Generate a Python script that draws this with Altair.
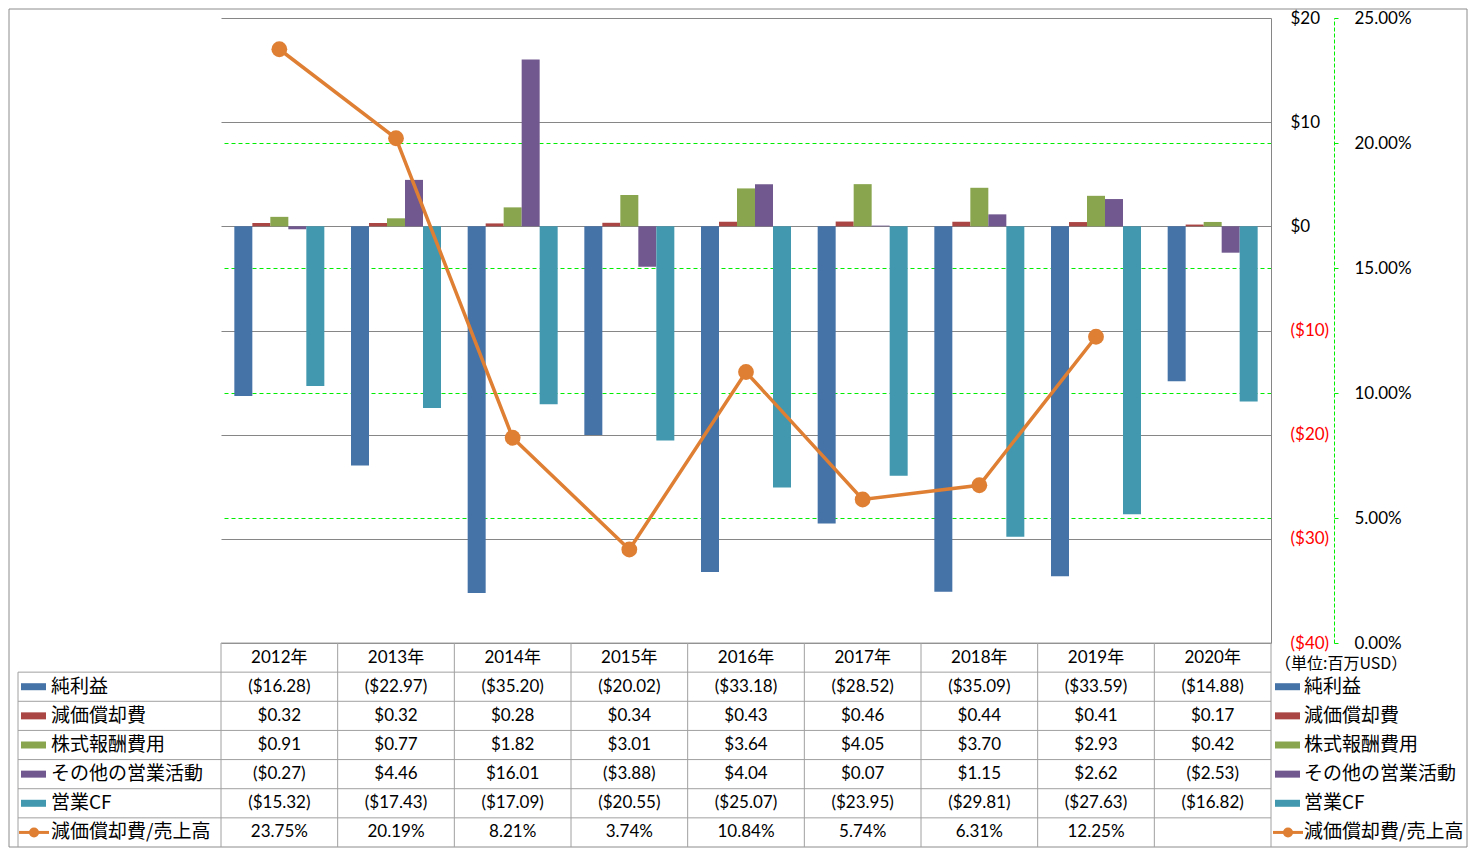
import altair as alt
import pandas as pd

# ---------------- data ----------------
years = ["2012年", "2013年", "2014年", "2015年", "2016年", "2017年", "2018年", "2019年", "2020年"]
series_names = ["純利益", "減価償却費", "株式報酬費用", "その他の営業活動", "営業CF"]
net_income = [-16.28, -22.97, -35.20, -20.02, -33.18, -28.52, -35.09, -33.59, -14.88]
depreciation = [0.32, 0.32, 0.28, 0.34, 0.43, 0.46, 0.44, 0.41, 0.17]
stock_comp = [0.91, 0.77, 1.82, 3.01, 3.64, 4.05, 3.70, 2.93, 0.42]
other_ops = [-0.27, 4.46, 16.01, -3.88, 4.04, 0.07, 1.15, 2.62, -2.53]
operating_cf = [-15.32, -17.43, -17.09, -20.55, -25.07, -23.95, -29.81, -27.63, -16.82]
ratio_name = "減価償却費/売上高"
dep_ratio = [23.75, 20.19, 8.21, 3.74, 10.84, 5.74, 6.31, 12.25, None]
unit_label = "（単位:百万USD）"
primary_ticks = [-40, -30, -20, -10, 0, 10, 20]
secondary_ticks = [0, 5, 10, 15, 20, 25]

# ---------------- style ----------------
colors = ["#4572A7", "#AA4643", "#89A54E", "#71588F", "#4198AF"]
line_color = "#DE7F34"
grid_gray = "#868686"
table_gray = "#A0A0A0"
green = "#00EE00"
NUM_FONT = "Lato, 'Noto Sans CJK JP', sans-serif"
CJK_FONT = "'Noto Sans CJK JP', sans-serif"

PLOT_W, PLOT_H = 1050, 625
TABLE_H = 204

series_values = [net_income, depreciation, stock_comp, other_ops, operating_cf]
bar_df = pd.DataFrame(
    [{"year": y, "series": s, "value": v}
     for s, vals in zip(series_names, series_values)
     for y, v in zip(years, vals)]
)
line_df = pd.DataFrame(
    [{"year": y, "ratio": r} for y, r in zip(years, dep_ratio) if r is not None]
)


def money(v):
    return f"(${abs(v):.2f})" if v < 0 else f"${v:.2f}"


table_rows = []
for y in years:
    table_rows.append({"year": y, "row": "hdr", "text": y})
for s, vals in zip(series_names, series_values):
    for y, v in zip(years, vals):
        table_rows.append({"year": y, "row": s, "text": money(v)})
for y, r in zip(years, dep_ratio):
    table_rows.append({"year": y, "row": ratio_name, "text": "" if r is None else f"{r:.2f}%"})
table_df = pd.DataFrame(table_rows)

row_ids = ["hdr"] + series_names + [ratio_name]
one = pd.DataFrame({"k": [0]})

# ---------------- top chart ----------------
x_scale = alt.Scale(domain=years, paddingInner=0.2286, paddingOuter=0.1143)

primary_axis = alt.Axis(
    orient="right", values=primary_ticks, title=None,
    labelExpr="datum.value < 0 ? '($' + abs(datum.value) + ')' : '$' + datum.value",
    labelColor={"condition": {"test": "datum.value < 0", "value": "#FF0000"}, "value": "#000000"},
    ticks=False, domain=True, domainColor=grid_gray, grid=True, gridColor=grid_gray,
    labelPadding=19, labelFont=NUM_FONT, labelFontSize=17, labelAlign="left",
)
secondary_axis = alt.Axis(
    orient="right", offset=63, values=secondary_ticks, title=None,
    labelExpr="format(datum.value, '.2f') + '%'",
    domainColor=green, domainDash=[4, 2], tickColor=green, tickSize=4,
    labelPadding=16, labelFont=NUM_FONT, labelFontSize=17, labelColor="#000000",
    grid=True, gridColor=green, gridDash=[4, 3],
    gridOpacity={"condition": {"test": "datum.value > 0 && datum.value < 25", "value": 1}, "value": 0},
)

border = alt.Chart(one).mark_rect(fillOpacity=0, stroke="#8C8C8C", strokeWidth=1).encode(
    x=alt.value(-212), x2=alt.value(1246), y=alt.value(-9), y2=alt.value(PLOT_H + TABLE_H)
)

bars = alt.Chart(bar_df).mark_bar().encode(
    x=alt.X("year:N", scale=x_scale, axis=None),
    xOffset=alt.XOffset("series:N", scale=alt.Scale(domain=series_names, paddingInner=0, paddingOuter=0)),
    y=alt.Y("value:Q", scale=alt.Scale(domain=[-40, 20], nice=False), axis=primary_axis),
    color=alt.Color("series:N", scale=alt.Scale(domain=series_names, range=colors), legend=None),
)

line = alt.Chart(line_df).mark_line(color=line_color, strokeWidth=3.5).encode(
    x=alt.X("year:N", scale=x_scale, axis=None),
    y=alt.Y("ratio:Q", scale=alt.Scale(domain=[0, 25], nice=False), axis=secondary_axis),
)
pts = alt.Chart(line_df).mark_circle(color=line_color, size=250, opacity=1).encode(
    x=alt.X("year:N", scale=x_scale, axis=None),
    y=alt.Y("ratio:Q", scale=alt.Scale(domain=[0, 25], nice=False), axis=None),
)

top = alt.layer(border, bars, line, pts).resolve_scale(y="independent").properties(
    width=PLOT_W, height=PLOT_H
)

# ---------------- table ----------------
x_tab = alt.Scale(domain=years, paddingInner=0, paddingOuter=0)
y_tab = alt.Scale(domain=row_ids, paddingInner=0, paddingOuter=0)

cells = alt.Chart(table_df).mark_text(font=NUM_FONT, fontSize=17, color="#000000").encode(
    x=alt.X("year:N", scale=x_tab, axis=None),
    y=alt.Y("row:N", scale=y_tab, axis=None),
    text="text:N",
)

vlines = alt.Chart(pd.DataFrame({"year": years})).mark_rule(color=table_gray, strokeWidth=1).encode(
    x=alt.X("year:N", scale=x_tab, axis=None, bandPosition=0),
    y=alt.value(0), y2=alt.value(TABLE_H),
)
right_edge = alt.Chart(one).mark_rule(color=table_gray, strokeWidth=1).encode(
    x=alt.value(PLOT_W), y=alt.value(0), y2=alt.value(TABLE_H)
)
hline_hdr = alt.Chart(pd.DataFrame({"row": ["hdr"]})).mark_rule(color=table_gray, strokeWidth=1).encode(
    y=alt.Y("row:N", scale=y_tab, axis=None, bandPosition=0),
    x=alt.value(0), x2=alt.value(PLOT_W),
)
hlines = alt.Chart(pd.DataFrame({"row": row_ids[1:]})).mark_rule(color=table_gray, strokeWidth=1).encode(
    y=alt.Y("row:N", scale=y_tab, axis=None, bandPosition=0),
    x=alt.value(-203), x2=alt.value(PLOT_W),
)
left_edge = alt.Chart(pd.DataFrame({"row": [row_ids[1]]})).mark_rule(color=table_gray, strokeWidth=1).encode(
    y=alt.Y("row:N", scale=y_tab, axis=None, bandPosition=0),
    y2=alt.value(TABLE_H), x=alt.value(-203),
)

sw_df = pd.DataFrame({"row": series_names})
color_tab = alt.Color("row:N", scale=alt.Scale(domain=series_names, range=colors), legend=None)


def legend_column(x0, text_x):
    sw = alt.Chart(sw_df).mark_rule(strokeWidth=7).encode(
        x=alt.value(x0), x2=alt.value(x0 + 25),
        y=alt.Y("row:N", scale=y_tab, axis=None), color=color_tab,
    )
    ratio_df = pd.DataFrame({"row": [ratio_name]})
    lk = alt.Chart(ratio_df).mark_rule(strokeWidth=3, color=line_color).encode(
        x=alt.value(x0 - 2), x2=alt.value(x0 + 28),
        y=alt.Y("row:N", scale=y_tab, axis=None),
    )
    lp = alt.Chart(ratio_df).mark_circle(size=100, color=line_color, opacity=1).encode(
        x=alt.value(x0 + 13), y=alt.Y("row:N", scale=y_tab, axis=None),
    )
    lab = alt.Chart(pd.DataFrame({"row": series_names + [ratio_name]})).mark_text(
        font=CJK_FONT, fontSize=19, align="left", color="#000000"
    ).encode(
        x=alt.value(text_x), y=alt.Y("row:N", scale=y_tab, axis=None), text="row:N",
    )
    return [sw, lk, lp, lab]


unit = alt.Chart(pd.DataFrame({"row": ["hdr"], "t": [unit_label]})).mark_text(
    font=CJK_FONT, fontSize=16, align="left", dy=6, color="#000000"
).encode(x=alt.value(1054), y=alt.Y("row:N", scale=y_tab, axis=None), text="t:N")

table = alt.layer(
    vlines, right_edge, hline_hdr, hlines, left_edge, cells,
    *legend_column(-200, -170), *legend_column(1054, 1083), unit,
).properties(width=PLOT_W, height=TABLE_H)

chart = alt.vconcat(top, table, spacing=0, bounds="flush").properties(
    padding=0
).configure_view(stroke="transparent")

chart.save("out.html", embed_options={"renderer": "svg", "actions": False})
